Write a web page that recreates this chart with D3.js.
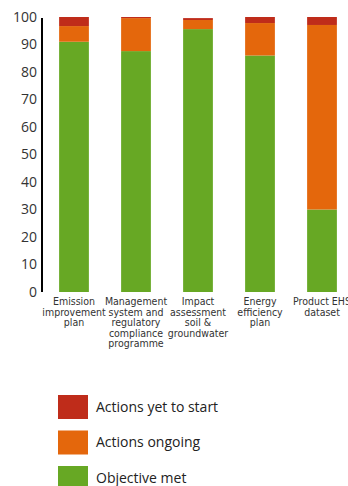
<!DOCTYPE html>
<html>
<head>
<meta charset="utf-8">
<script src="https://cdn.jsdelivr.net/npm/d3@7"></script>
<style>
  body { margin: 0; background: #fff; }
  svg { display: block; }
</style>
</head>
<body>
<svg id="chart" width="348" height="486"></svg>
<script>
// Data
const categories = [
  "Emission improvement plan",
  "Management system and regulatory compliance programme",
  "Impact assessment soil & groundwater",
  "Energy efficiency plan",
  "Product EHS dataset"
];
const categoryLines = [
  ["Emission", "improvement", "plan"],
  ["Management", "system and", "regulatory", "compliance", "programme"],
  ["Impact", "assessment", "soil &", "groundwater"],
  ["Energy", "efficiency", "plan"],
  ["Product EHS", "dataset"]
];
const objectiveMet = [91, 87.6, 95.6, 86, 30];
const actionsOngoing = [5.7, 12, 3.3, 11.8, 67.1];
const actionsYetToStart = [3.3, 0.4, 0.7, 2.2, 2.9];
const yTicks = [0, 10, 20, 30, 40, 50, 60, 70, 80, 90, 100];

const seriesKeys = ["met", "ongoing", "yet"];
const seriesLabels = { yet: "Actions yet to start", ongoing: "Actions ongoing", met: "Objective met" };
const colors = { met: "#67a824", ongoing: "#e4670c", yet: "#bf2c1a" };

const table = categories.map((c, i) => ({
  cat: c, met: objectiveMet[i], ongoing: actionsOngoing[i], yet: actionsYetToStart[i]
}));

const svg = d3.select("#chart");
const axisX = 42;

const x = d3.scaleBand()
  .domain(categories)
  .range([43, 353])
  .paddingInner(0.52)
  .paddingOuter(0.26);

const y = d3.scaleLinear().domain([0, 100]).range([292, 17]);

const stack = d3.stack().keys(seriesKeys)(table);

svg.append("g")
  .selectAll("g")
  .data(stack)
  .join("g")
  .attr("fill", d => colors[d.key])
  .selectAll("rect")
  .data(d => d)
  .join("rect")
  .attr("x", d => x(d.data.cat))
  .attr("width", x.bandwidth())
  .attr("y", d => y(d[1]))
  .attr("height", d => y(d[0]) - y(d[1]));

// Y axis
const yAxis = svg.append("g")
  .attr("transform", `translate(${axisX},0)`)
  .call(d3.axisLeft(y).tickValues(yTicks).tickSize(0).tickPadding(5));
yAxis.select(".domain").attr("stroke", "#000").attr("stroke-width", 2).attr("d", `M0,${y(99.6)}V${y(0)}`);
yAxis.selectAll("text")
  .attr("font-family", "'Open Sans', sans-serif")
  .attr("font-size", 14)
  .attr("fill", "#333");

// Category labels
const labels = svg.append("g");
categories.forEach((c, i) => {
  const t = labels.append("text")
    .attr("x", x(c) + x.bandwidth() / 2)
    .attr("y", 305)
    .attr("text-anchor", "middle")
    .attr("font-family", "'DejaVu Sans Condensed', 'DejaVu Sans', sans-serif")
    .attr("font-stretch", "condensed")
    .attr("font-size", 10.5)
    .attr("fill", "#333");
  categoryLines[i].forEach((line, j) => {
    t.append("tspan")
      .attr("x", x(c) + x.bandwidth() / 2)
      .attr("dy", j === 0 ? 0 : 10.5)
      .text(line);
  });
});

// Legend
const legendOrder = ["yet", "ongoing", "met"];
const legend = svg.append("g").attr("transform", "translate(58,395)");
legendOrder.forEach((k, i) => {
  const g = legend.append("g").attr("transform", `translate(0,${i * 35.5})`);
  g.append("rect").attr("width", 30).attr("height", 24).attr("fill", colors[k]);
  g.append("text")
    .attr("x", 38)
    .attr("y", 16.5)
    .attr("font-family", "'Open Sans', sans-serif")
    .attr("font-size", 14)
    .attr("fill", "#222")
    .text(seriesLabels[k]);
});
</script>
</body>
</html>
